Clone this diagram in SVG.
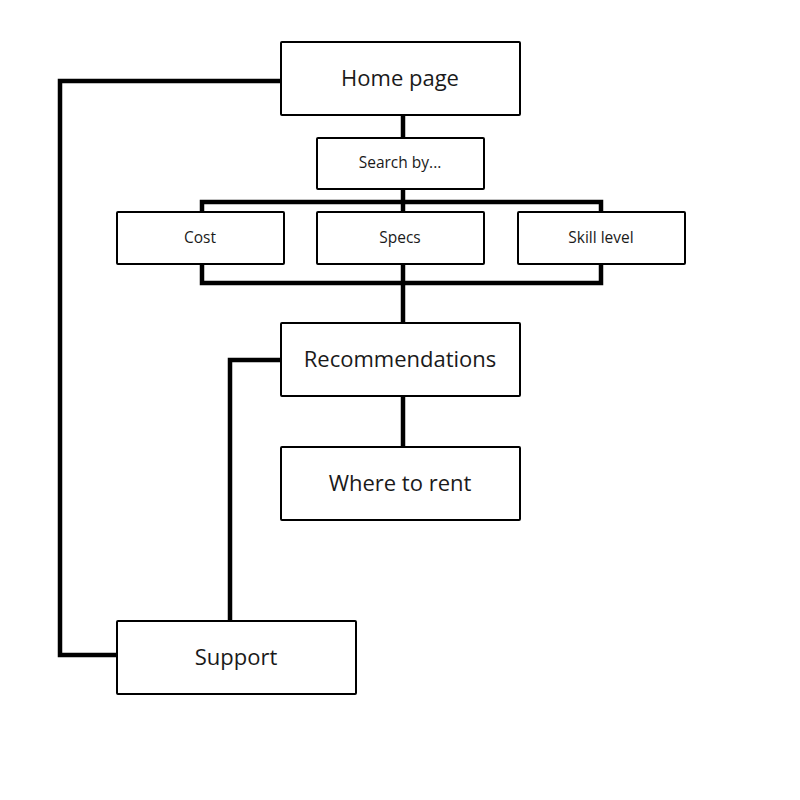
<svg xmlns="http://www.w3.org/2000/svg" width="800" height="800" viewBox="0 0 800 800">
<style>
.box{fill:#fff;stroke:#000;stroke-width:2}
.big{font-family:"Open Sans","Noto Sans",sans-serif;font-size:22px;fill:#1a1a1a;text-anchor:middle;dominant-baseline:central}
.small{font-family:"Open Sans","Noto Sans",sans-serif;font-size:15.5px;fill:#1a1a1a;text-anchor:middle;dominant-baseline:central}
.conn{fill:none;stroke:#000;stroke-width:4.5;stroke-linejoin:miter}
</style>
<rect width="800" height="800" fill="#fff"/>
<g id="connectors">
<path class="conn" d="M281 81 H60 V655 H117"/>
<path class="conn" d="M281 360 H230 V621"/>
<path class="conn" d="M403 115 V138"/>
<path class="conn" d="M403 189 V212"/>
<path class="conn" d="M202 212 V202 H601 V212"/>
<path class="conn" d="M202 264 V283 H601 V264"/>
<path class="conn" d="M403 264 V323"/>
<path class="conn" d="M403 396 V447"/>
</g>
<g id="home"><rect class="box" x="281" y="42" width="239" height="73" rx="1"/><text class="big" x="400" y="77">Home page</text></g>
<g id="search"><rect class="box" x="317" y="138" width="167" height="51" rx="1"/><text class="small" x="400" y="162">Search by...</text></g>
<g id="cost"><rect class="box" x="117" y="212" width="167" height="52" rx="1"/><text class="small" x="200" y="237">Cost</text></g>
<g id="specs"><rect class="box" x="317" y="212" width="167" height="52" rx="1"/><text class="small" x="400" y="237">Specs</text></g>
<g id="skill"><rect class="box" x="518" y="212" width="167" height="52" rx="1"/><text class="small" x="601" y="237">Skill level</text></g>
<g id="recommendations"><rect class="box" x="281" y="323" width="239" height="73" rx="1"/><text class="big" x="400" y="358">Recommendations</text></g>
<g id="rent"><rect class="box" x="281" y="447" width="239" height="73" rx="1"/><text class="big" x="400" y="482">Where to rent</text></g>
<g id="support"><rect class="box" x="117" y="621" width="239" height="73" rx="1"/><text class="big" x="236" y="656">Support</text></g>
</svg>
